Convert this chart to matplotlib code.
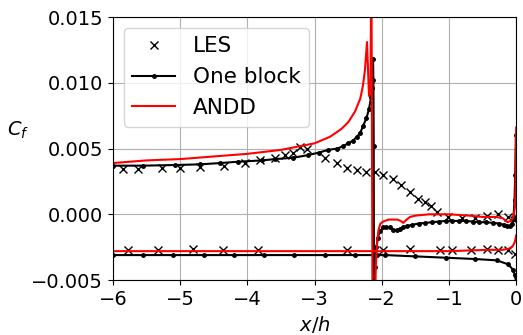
import numpy as np
import matplotlib.pyplot as plt

# LES reference points (upper and lower wall)
les_up_x = [-5.85, -5.63, -5.27, -5.01, -4.70, -4.35, -4.03, -3.81, -3.59, -3.44, -3.32,
            -3.21, -3.11, -2.84, -2.66, -2.52, -2.37, -2.23, -2.10, -1.98, -1.83, -1.71,
            -1.58, -1.46, -1.36, -1.27, -1.18, -1.01, -0.80, -0.61, -0.43, -0.27, -0.12, -0.04]
les_up_cf = [0.00346, 0.00346, 0.0035, 0.0035, 0.0036, 0.0037, 0.0039, 0.0041, 0.0043, 0.0045, 0.0047,
             0.0051, 0.0050, 0.0043, 0.0039, 0.0035, 0.0034, 0.0032, 0.0032, 0.0030, 0.0027, 0.0022,
             0.0017, 0.0012, 0.0009, 0.0006, 0.0002, -0.0002, -0.0003, -0.0003, -0.0001, 0.0, -0.0002, -0.0004]
les_lo_x = [-5.78, -5.33, -4.81, -4.36, -3.84, -2.52, -1.98, -1.58, -1.13, -0.95, -0.68,
            -0.43, -0.27, -0.12, -0.02]
les_lo_cf = [-0.0027, -0.0027, -0.0026, -0.0027, -0.0027, -0.0027, -0.0027, -0.0026, -0.0027, -0.0027, -0.0027,
             -0.0026, -0.0027, -0.0027, -0.0030]

# One block (upper wall, through the step singularity)
ob_up_x = [-6.0, -5.55, -5.07, -4.70, -4.40, -4.14, -3.78, -3.59, -3.32, -3.10, -2.93, -2.80,
           -2.66, -2.57, -2.50, -2.43, -2.37, -2.32, -2.28, -2.23, -2.19, -2.16, -2.14, -2.13,
           -2.125, -2.12, -2.112,
           -2.10, -2.08, -2.06, -2.03, -1.98, -1.93, -1.88, -1.83, -1.78, -1.73, -1.68, -1.63,
           -1.55, -1.45, -1.35, -1.25, -1.15, -1.05, -0.95, -0.85, -0.75, -0.65, -0.55, -0.45,
           -0.35, -0.25, -0.18, -0.13, -0.09, -0.06, -0.04, -0.025, -0.015, -0.005]
ob_up_cf = [0.0037, 0.0037, 0.00375, 0.0038, 0.0039, 0.0040, 0.0041, 0.0042, 0.0043, 0.0045, 0.0047, 0.0049,
            0.0050, 0.0052, 0.0054, 0.0056, 0.0059, 0.0062, 0.0067, 0.0073, 0.0080, 0.0089, 0.0096, 0.0118,
            0.0102, 0.0052, -0.02,
            -0.0040, -0.0025, -0.0018, -0.0013, -0.0010, -0.00095, -0.0010, -0.0012, -0.0012, -0.0011, -0.0010, -0.0009,
            -0.0008, -0.0007, -0.00065, -0.0006, -0.00055, -0.0005, -0.0005, -0.0005, -0.0005, -0.00055, -0.0006, -0.0006,
            -0.00065, -0.0007, -0.0008, -0.0009, -0.0009, -0.0007, -0.0002, 0.0011, 0.0030, 0.0060]

# One block (lower wall)
ob_lo_x = [-6.0, -5.55, -5.10, -4.65, -4.20, -3.75, -3.30, -2.85, -2.40, -2.07, -1.95, -1.50,
           -1.05, -0.61, -0.29, -0.12, -0.05, -0.02, 0.0]
ob_lo_cf = [-0.0031, -0.0031, -0.0031, -0.0031, -0.0031, -0.0031, -0.0031, -0.0031, -0.0031, -0.0031, -0.0031, -0.0032,
            -0.0033, -0.0034, -0.0035, -0.0038, -0.0042, -0.0046, -0.0052]

# ANDD (upper wall)
andd_up_x = [-6.0, -5.5, -5.0, -4.5, -4.0, -3.5, -3.0, -2.77, -2.6, -2.5, -2.4, -2.32, -2.28, -2.25,
             -2.22, -2.19, -2.168, -2.155, -2.13, -2.10, -2.09, -2.07, -2.05, -2.02, -1.98, -1.90, -1.83,
             -1.77, -1.72, -1.68, -1.63, -1.58, -1.50, -1.30, -1.00, -0.70, -0.50, -0.30, -0.20, -0.13,
             -0.08, -0.04, -0.02, -0.01, 0.0]
andd_up_cf = [0.0039, 0.0041, 0.0042, 0.0044, 0.0046, 0.0049, 0.0054, 0.0059, 0.0065, 0.0070, 0.0078, 0.0088, 0.0098, 0.0110,
              0.0131, 0.0090, 0.0095, 0.02, -0.02, -0.007, -0.0040, -0.0022, -0.0012, -0.0007, -0.00055, -0.0004, -0.0004,
              -0.0004, -0.0005, -0.00065, -0.0004, -0.0002, -0.0001, 0.0, 0.0, -0.0001, -0.0002, -0.0002, -0.0003, -0.0006,
              -0.0005, -0.0002, 0.0005, 0.0020, 0.0066]

# ANDD (lower wall)
andd_lo_x = [-6.0, -4.0, -2.0, -1.0, -0.4, -0.2, -0.1, -0.05, -0.02, 0.0]
andd_lo_cf = [-0.0028, -0.0028, -0.0028, -0.0028, -0.0027, -0.0027, -0.0026, -0.0024, -0.0021, -0.0016]

plt.rcParams['font.size'] = 14
fig = plt.figure(figsize=(5.23, 3.35), dpi=100)
ax = fig.add_axes([0.216, 0.164, 0.771, 0.785])

ax.plot(les_up_x, les_up_cf, 'kx', ms=6, mew=1.0, label='LES')
ax.plot(les_lo_x, les_lo_cf, 'kx', ms=6, mew=1.0)
ax.plot(ob_up_x, ob_up_cf, 'k.-', ms=5, lw=1.5, label='One block')
ax.plot(ob_lo_x, ob_lo_cf, 'k.-', ms=5, lw=1.5)
ax.plot(andd_up_x, andd_up_cf, 'r-', lw=1.5, label='ANDD')
ax.plot(andd_lo_x, andd_lo_cf, 'r-', lw=1.5)

ax.set_xlim(-6, 0)
ax.set_ylim(-0.005, 0.015)
ax.set_yticks([-0.005, 0.0, 0.005, 0.010, 0.015])
ax.grid(True)
ax.set_xlabel('$x/h$')
ax.set_ylabel('$C_f$', rotation=0)
ax.yaxis.set_label_coords(-0.235, 0.53)
ax.legend(loc='upper left', fontsize=15.5)

fig.savefig('out.png', dpi=100)
